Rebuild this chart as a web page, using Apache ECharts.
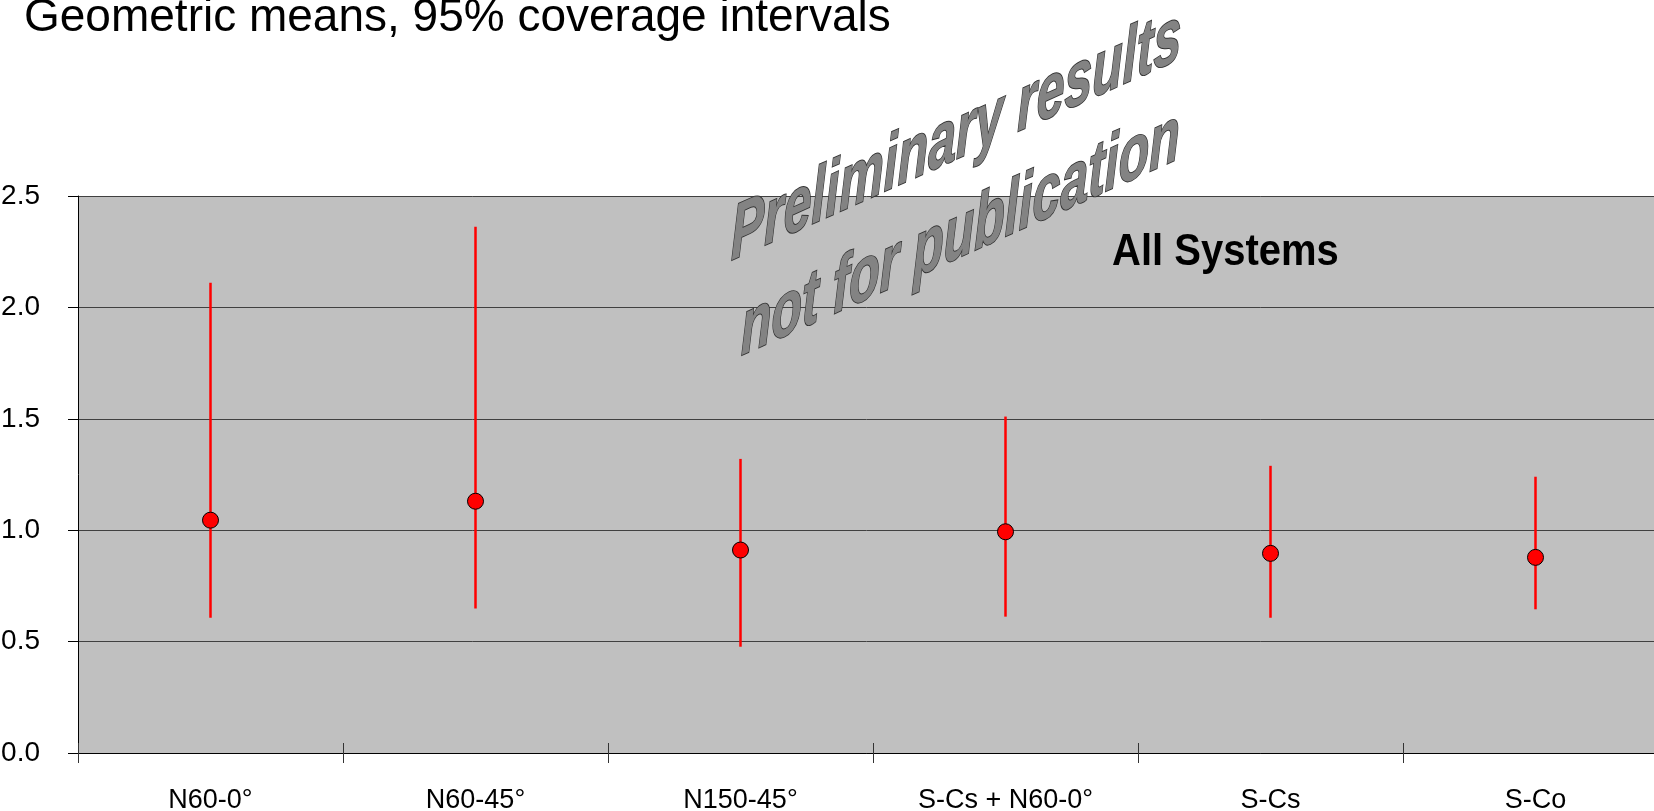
<!DOCTYPE html>
<html>
<head>
<meta charset="utf-8">
<script src="https://cdn.jsdelivr.net/npm/echarts@6/dist/echarts.min.js"></script>
<style>
html,body{margin:0;padding:0;background:#fff;}
#chart{width:1654px;height:811px;}
</style>
</head>
<body>
<div id="chart"></div>
<script>
const categories = ['N60-0°', 'N60-45°', 'N150-45°', 'S-Cs + N60-0°', 'S-Cs', 'S-Co'];
const means = [1.045, 1.130, 0.911, 0.993, 0.896, 0.878];
const lower = [0.607, 0.649, 0.477, 0.612, 0.607, 0.645];
const upper = [2.111, 2.362, 1.320, 1.510, 1.289, 1.240];
const yTicks = [0, 0.5, 1.0, 1.5, 2.0, 2.5];

const FONT = '"Liberation Sans", Arial, Helvetica, sans-serif';
const chart = echarts.init(document.getElementById('chart'));

const errData = categories.map((c, i) => [i, lower[i], upper[i]]);
const wmScaleY = 1.55, wmSize = 50, wmSkew = Math.atan(0.45);

chart.setOption({
  animation: false,
  backgroundColor: '#ffffff',
  grid: {
    left: 78, top: 196, width: 1590, bottom: 58,
    outerBoundsMode: 'none', containLabel: false,
    show: true, backgroundColor: '#C0C0C0', borderWidth: 0
  },
  xAxis: [{
    type: 'category', data: categories, boundaryGap: true,
    axisLine: { lineStyle: { color: '#000', width: 1 } },
    axisTick: { show: true, length: 10, lineStyle: { color: '#333' } },
    axisLabel: { color: '#000', fontFamily: FONT, fontSize: 27, margin: 34 },
    splitLine: { show: false }
  }, {
    type: 'category', data: categories, boundaryGap: true, position: 'bottom',
    axisLine: { show: false },
    axisTick: { show: true, inside: true, length: 10, lineStyle: { color: '#333' } },
    axisLabel: { show: false }, splitLine: { show: false }
  }],
  yAxis: {
    type: 'value', min: 0, max: 2.5, interval: 0.5,
    axisLine: { show: true, lineStyle: { color: '#000', width: 1 } },
    axisTick: { show: true, length: 10, lineStyle: { color: '#000' } },
    axisLabel: {
      color: '#000', fontFamily: FONT, fontSize: 28, margin: 38,
      formatter: v => { const t = yTicks.find(k => Math.abs(k - v) < 1e-9); return (t !== undefined ? t : v).toFixed(1); }
    },
    splitLine: { show: true, lineStyle: { color: '#404040', width: 1 } }
  },
  series: [{
    type: 'custom',
    data: errData,
    renderItem: function (params, api) {
      const lo = api.coord([api.value(0), api.value(1)]);
      const hi = api.coord([api.value(0), api.value(2)]);
      return {
        type: 'line',
        shape: { x1: lo[0], y1: lo[1], x2: hi[0], y2: hi[1] },
        style: { stroke: '#FF0000', lineWidth: 2.5 }
      };
    },
    z: 3
  }, {
    type: 'scatter',
    data: means,
    symbol: 'circle', symbolSize: 16,
    itemStyle: { color: '#FF0000', borderColor: '#000', borderWidth: 1, opacity: 1 },
    z: 4
  }],
  graphic: [{
    type: 'text', x: 24, y: 34 - 0.3465 * 46,
    style: { text: 'Geometric means, 95% coverage intervals', font: '46px ' + FONT, fill: '#000', verticalAlign: 'middle', align: 'left' },
    z: 100
  }, {
    type: 'text', x: 1112, y: 253, scaleY: 1.12,
    style: { text: 'All Systems', font: 'bold 40px ' + FONT, fill: '#000', verticalAlign: 'middle', align: 'left' },
    z: 100
  }, {
    type: 'text', x: 731, y: 266 - 0.3465 * wmSize * wmScaleY,
    scaleY: wmScaleY, skewY: wmSkew,
    style: { text: 'Preliminary results', font: 'italic bold ' + wmSize + 'px ' + FONT, fill: '#838383', stroke: '#333', lineWidth: 1.2, verticalAlign: 'middle', align: 'left' },
    z: 100
  }, {
    type: 'text', x: 741, y: 361 - 0.3465 * wmSize * wmScaleY,
    scaleY: wmScaleY, skewY: wmSkew,
    style: { text: 'not for publication', font: 'italic bold ' + wmSize + 'px ' + FONT, fill: '#838383', stroke: '#333', lineWidth: 1.2, verticalAlign: 'middle', align: 'left' },
    z: 100
  }]
});
</script>
</body>
</html>
